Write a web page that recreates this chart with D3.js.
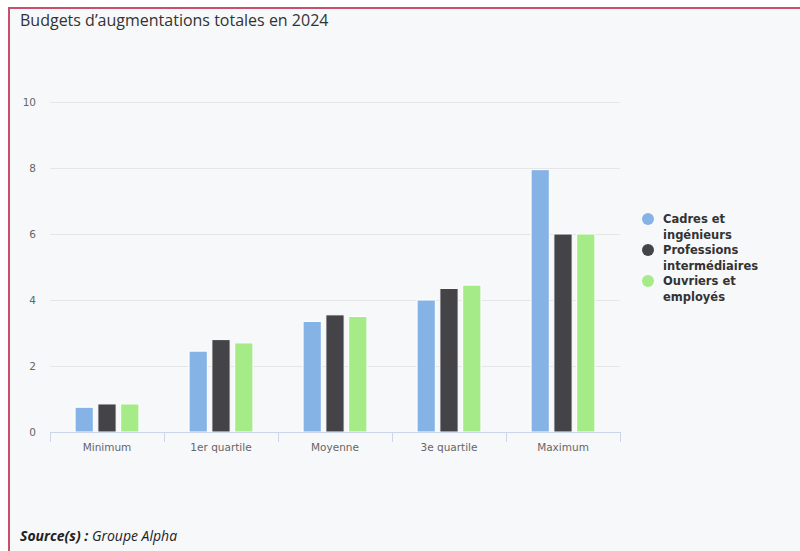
<!DOCTYPE html>
<html>
<head>
<meta charset="utf-8">
<script src="https://cdn.jsdelivr.net/npm/d3@7"></script>
<style>
  html, body { margin: 0; padding: 0; background: #ffffff; }
  #chart { width: 800px; height: 551px; }
</style>
</head>
<body>
<div id="chart"></div>
<script>
// Chart data
const categories = ["Minimum", "1er quartile", "Moyenne", "3e quartile", "Maximum"];
const seriesNames = [["Cadres et", "ingénieurs"], ["Professions", "intermédiaires"], ["Ouvriers et", "employés"]];
const cadres = [0.75, 2.45, 3.35, 4.0, 7.95];
const professions = [0.85, 2.8, 3.55, 4.35, 6.0];
const ouvriers = [0.85, 2.7, 3.5, 4.45, 6.0];
const yTicks = [0, 2, 4, 6, 8, 10];
const colors = ["#86b3e6", "#434348", "#a5eb87"];

const series = [cadres, professions, ouvriers];

const W = 800, H = 551;
const plot = { left: 50, right: 620, top: 102, bottom: 432 };

const svg = d3.select("#chart").append("svg")
  .attr("width", W)
  .attr("height", H);

// frame
svg.append("rect")
  .attr("x", 9).attr("y", 8)
  .attr("width", W + 10).attr("height", H + 10)
  .attr("fill", "#f7f8fa")
  .attr("stroke", "#c9506c")
  .attr("stroke-width", 2);

// title
svg.append("text")
  .attr("x", 20).attr("y", 26)
  .style("font-family", "'Open Sans', sans-serif")
  .style("font-size", "16px")
  .style("fill", "#333333")
  .text("Budgets d\u2019augmentations totales en 2024");

const x0 = d3.scaleBand()
  .domain(categories)
  .range([plot.left, plot.right])
  .padding(0);

const x1 = d3.scaleBand()
  .domain(d3.range(series.length))
  .range([x0.bandwidth() * 0.2, x0.bandwidth() * 0.8])
  .paddingInner(0.2)
  .paddingOuter(0.1);

const y = d3.scaleLinear()
  .domain([0, 10])
  .range([plot.bottom, plot.top]);

// grid lines
svg.append("g")
  .selectAll("line")
  .data(yTicks.filter(d => d > 0))
  .enter().append("line")
  .attr("x1", plot.left).attr("x2", plot.right)
  .attr("y1", d => Math.round(y(d)) + 0.5)
  .attr("y2", d => Math.round(y(d)) + 0.5)
  .attr("stroke", "#e6e6e6")
  .attr("stroke-width", 1);

// y labels
svg.append("g")
  .selectAll("text")
  .data(yTicks)
  .enter().append("text")
  .attr("x", 36)
  .attr("y", d => y(d) + 4)
  .attr("text-anchor", "end")
  .style("font-family", "'DejaVu Sans', Verdana, sans-serif")
  .style("font-size", "10.5px")
  .style("fill", "#666666")
  .text(d => d);

// bars
const groups = svg.append("g")
  .selectAll("g")
  .data(categories)
  .enter().append("g")
  .attr("transform", d => `translate(${x0(d)},0)`);

groups.selectAll("rect")
  .data((d, i) => series.map((s, k) => ({ k: k, value: s[i] })))
  .enter().append("rect")
  .attr("x", d => x1(d.k))
  .attr("y", d => y(d.value))
  .attr("width", x1.bandwidth())
  .attr("height", d => y(0) - y(d.value))
  .attr("fill", d => colors[d.k])
  .attr("stroke", "#ffffff")
  .attr("stroke-width", 1);

// x axis
const xAxis = svg.append("g");
xAxis.append("line")
  .attr("x1", plot.left).attr("x2", plot.right)
  .attr("y1", plot.bottom + 0.5).attr("y2", plot.bottom + 0.5)
  .attr("stroke", "#ccd6eb");

const tickPos = categories.map(c => x0(c)).concat([plot.right]);
xAxis.selectAll("line.tick")
  .data(tickPos)
  .enter().append("line")
  .attr("class", "tick")
  .attr("x1", d => Math.round(d) + 0.5).attr("x2", d => Math.round(d) + 0.5)
  .attr("y1", plot.bottom).attr("y2", plot.bottom + 10)
  .attr("stroke", "#ccd6eb");

xAxis.selectAll("text")
  .data(categories)
  .enter().append("text")
  .attr("x", d => x0(d) + x0.bandwidth() / 2)
  .attr("y", plot.bottom + 19)
  .attr("text-anchor", "middle")
  .style("font-family", "'DejaVu Sans', Verdana, sans-serif")
  .style("font-size", "10.5px")
  .style("fill", "#666666")
  .text(d => d);

// legend
const legend = svg.append("g")
  .selectAll("g")
  .data(seriesNames)
  .enter().append("g")
  .attr("transform", (d, i) => `translate(648,${219 + i * 31})`);

legend.append("circle")
  .attr("r", 6)
  .attr("fill", (d, i) => colors[i]);

legend.append("text")
  .attr("x", 15)
  .attr("y", 4)
  .style("font-family", "'DejaVu Sans', Verdana, sans-serif")
  .style("font-size", "11.5px")
  .style("font-weight", "bold")
  .style("fill", "#333333")
  .selectAll("tspan")
  .data(d => d)
  .enter().append("tspan")
  .attr("x", 15)
  .attr("dy", (d, i) => i === 0 ? 0 : 15.5)
  .text(d => d);

// source
const src = svg.append("text")
  .attr("x", 20).attr("y", 541)
  .style("font-family", "'Open Sans', sans-serif")
  .style("font-size", "14px")
  .style("font-style", "italic")
  .style("fill", "#222222");
src.append("tspan").style("font-weight", "bold").text("Source(s) : ");
src.append("tspan").text("Groupe Alpha");
</script>
</body>
</html>
